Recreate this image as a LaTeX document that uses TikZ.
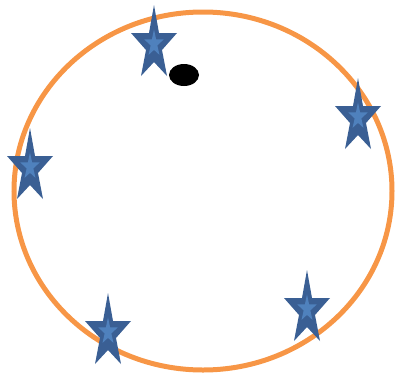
\documentclass[tikz,border=0pt]{standalone}
\definecolor{ringorange}{HTML}{F79646}
\definecolor{stardark}{HTML}{3A5F94}
\definecolor{starlight}{HTML}{4F81BD}
\tikzset{
  ring/.style={draw=ringorange, line width=5pt},
  starout/.style={fill=stardark},
  starin/.style={fill=starlight},
  dot/.style={fill=black}
}
\newcommand{\starpath}{(0,0) -- (5,28) -- (23,28) -- (8,45) -- (13,71) -- (0,57) -- (-13,71) -- (-8,45) -- (-23,28) -- (-5,28) -- cycle}
\newcommand{\mystar}[2]{%
  \begin{scope}[shift={(#1,#2)}]
    \fill[starout] \starpath;
    \begin{scope}[shift={(0,38)}, xscale=0.42, yscale=0.36, shift={(0,-38)}]
      \fill[starin] \starpath;
    \end{scope}
  \end{scope}}
\begin{document}
\begin{tikzpicture}[x=1pt,y=-1pt]
\useasboundingbox (0,0) rectangle (396,373);
\draw[ring] (203,191) ellipse [x radius=189, y radius=179];
\mystar{154}{5}
\mystar{358}{78}
\mystar{30}{128}
\mystar{108}{293}
\mystar{307}{270}
\fill[dot] (184,75) ellipse [x radius=15, y radius=11];
\end{tikzpicture}
\end{document}
